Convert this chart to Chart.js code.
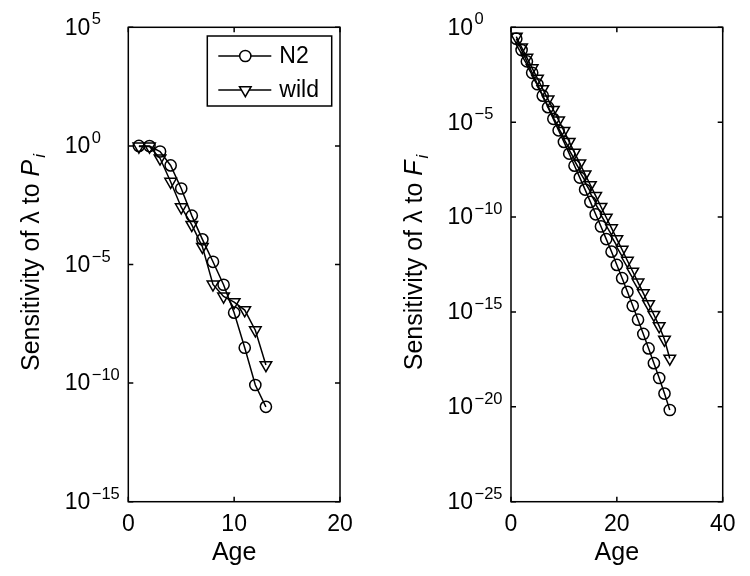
<!DOCTYPE html>
<html>
<head>
<meta charset="utf-8">
<script src="https://cdn.jsdelivr.net/npm/chart.js@4.4.1/dist/chart.umd.min.js"></script>
<style>
  html, body { margin: 0; padding: 0; background: #fff; }
  canvas { position: absolute; top: 0; }
  #left { left: 0; }
  #right { left: 375px; }
</style>
</head>
<body>
<canvas id="left" width="375" height="576"></canvas>
<canvas id="right" width="375" height="576"></canvas>
<script>
// ages
const agesP = [1, 2, 3, 4, 5, 6, 7, 8, 9, 10, 11, 12, 13];
const agesF = [1, 2, 3, 4, 5, 6, 7, 8, 9, 10, 11, 12, 13, 14, 15, 16, 17, 18, 19, 20,
  21, 22, 23, 24, 25, 26, 27, 28, 29, 30];

// sensitivity of lambda to P_i (survival)
const n2P = [1.0, 0.98, 5.8e-1, 1.5e-1, 1.6e-2, 1.15e-3, 1.15e-4, 1.3e-5, 1.4e-6, 9.3e-8,
  3.1e-9, 8.3e-11, 1.0e-11];
const wildP = [0.95, 0.95, 3.0e-1, 3.1e-2, 2.6e-3, 4.7e-4, 5.6e-5, 1.45e-6, 4.5e-7, 2.6e-7,
  1.2e-7, 1.7e-8, 5.8e-10];

// sensitivity of lambda to F_i (fertility)
const n2F = [2.5e-1, 6.3e-2, 1.6e-2, 4.0e-3, 1.0e-3, 2.5e-4, 6.2e-5, 1.5e-5, 3.7e-6, 9.1e-7,
  2.2e-7, 5.1e-8, 1.2e-8, 2.8e-9, 6.3e-10, 1.4e-10, 3.2e-11, 6.9e-12, 1.5e-12, 3.0e-13,
  6.0e-14, 1.15e-14, 2.1e-15, 3.9e-16, 6.9e-17, 1.2e-17, 2.0e-18, 3.3e-19, 5.0e-20, 6.8e-21];
const wildF = [3.2e-1, 8.9e-2, 2.5e-2, 7.1e-3, 2.0e-3, 5.6e-4, 1.6e-4, 4.5e-5, 1.26e-5, 3.5e-6,
  9.3e-7, 2.5e-7, 6.8e-8, 1.8e-8, 4.9e-9, 1.3e-9, 3.5e-10, 9.5e-11, 2.6e-11, 6.9e-12,
  1.9e-12, 5.0e-13, 1.35e-13, 3.6e-14, 9.8e-15, 2.6e-15, 7.1e-16, 1.8e-16, 3.5e-17, 3.5e-18];

// tick labels
const xTicksP = [0, 10, 20];
const yExpP = [5, 0, -5, -10, -15];
const xTicksF = [0, 20, 40];
const yExpF = [0, -5, -10, -15, -20, -25];

const FONT = '"Liberation Sans", Arial, Helvetica, sans-serif';
const LW = 1.5;

function pts(xs, ys) { return xs.map((x, i) => ({ x: x, y: ys[i] })); }

function series(label, xs, ys, shape) {
  return {
    label: label,
    data: pts(xs, ys),
    borderColor: '#000',
    borderWidth: LW,
    pointStyle: shape === 'tri' ? 'triangle' : 'circle',
    pointRotation: shape === 'tri' ? 180 : 0,
    pointRadius: shape === 'tri' ? 6.7 : 5.6,
    pointBorderWidth: LW,
    pointBorderColor: '#000',
    pointBackgroundColor: 'rgba(0,0,0,0)',
    tension: 0,
    fill: false
  };
}

function expText(e) { return e < 0 ? '\u2212' + Math.abs(e) : String(e); }

function axesPlugin(cfg) {
  return {
    id: 'matlabAxes',
    afterDraw(chart) {
      const ctx = chart.ctx;
      const a = chart.chartArea;
      const xs = chart.scales.x, ys = chart.scales.y;
      ctx.save();
      ctx.strokeStyle = '#000';
      ctx.lineWidth = LW;
      ctx.strokeRect(a.left, a.top, a.right - a.left, a.bottom - a.top);
      ctx.beginPath();
      cfg.xTicks.forEach(v => {
        const px = xs.getPixelForValue(v);
        ctx.moveTo(px, a.bottom); ctx.lineTo(px, a.bottom - 5);
        ctx.moveTo(px, a.top); ctx.lineTo(px, a.top + 5);
      });
      cfg.yExp.forEach(e => {
        const py = ys.getPixelForValue(Math.pow(10, e));
        ctx.moveTo(a.left, py); ctx.lineTo(a.left + 5, py);
        ctx.moveTo(a.right, py); ctx.lineTo(a.right - 5, py);
      });
      ctx.stroke();

      ctx.fillStyle = '#000';
      // x tick labels
      ctx.font = '23px ' + FONT;
      ctx.textAlign = 'center';
      ctx.textBaseline = 'middle';
      cfg.xTicks.forEach(v => {
        ctx.fillText(String(v), xs.getPixelForValue(v), a.bottom + 23);
      });
      // y tick labels 10^e
      cfg.yExp.forEach(e => {
        const py = ys.getPixelForValue(Math.pow(10, e));
        const bx = a.left - 38;
        ctx.font = '23px ' + FONT;
        ctx.textAlign = 'right';
        ctx.textBaseline = 'middle';
        ctx.fillText('10', bx, py + 1);
        ctx.font = '16.5px ' + FONT;
        ctx.textAlign = 'left';
        ctx.textBaseline = 'alphabetic';
        ctx.fillText(expText(e), bx + 1.5, py - 3);
      });
      // x title
      ctx.font = '25px ' + FONT;
      ctx.textAlign = 'center';
      ctx.textBaseline = 'middle';
      ctx.fillText('Age', (a.left + a.right) / 2, a.bottom + 51);

      // y title, rotated
      ctx.translate(cfg.yTitleX, (a.top + a.bottom) / 2 - 2);
      ctx.rotate(-Math.PI / 2);
      const main = 'Sensitivity of \u03bb to ';
      ctx.font = '25px ' + FONT;
      const w1 = ctx.measureText(main).width;
      ctx.font = 'italic 25px ' + FONT;
      const w2 = ctx.measureText(cfg.sym).width;
      ctx.font = 'italic 17px ' + FONT;
      const w3 = ctx.measureText('i').width;
      let x0 = -(w1 + w2 + w3 + 2) / 2;
      ctx.textAlign = 'left';
      ctx.textBaseline = 'middle';
      ctx.font = '25px ' + FONT;
      ctx.fillText(main, x0, 0);
      ctx.font = 'italic 25px ' + FONT;
      ctx.fillText(cfg.sym, x0 + w1, 0);
      ctx.font = 'italic 17px ' + FONT;
      ctx.fillText('i', x0 + w1 + w2 + 2, 8);
      ctx.restore();

      if (cfg.legend) {
        const L = cfg.legend;
        ctx.save();
        ctx.strokeStyle = '#000';
        ctx.lineWidth = LW;
        ctx.fillStyle = '#fff';
        ctx.fillRect(L.x, L.y, L.w, L.h);
        ctx.strokeRect(L.x, L.y, L.w, L.h);
        chart.data.datasets.forEach((ds, i) => {
          const ry = L.y + 20 + i * 34;
          ctx.beginPath();
          ctx.moveTo(L.x + 11, ry); ctx.lineTo(L.x + 64, ry);
          ctx.stroke();
          Chart.helpers.drawPoint(ctx, {
            pointStyle: ds.pointStyle,
            rotation: ds.pointRotation,
            radius: ds.pointRadius,
            borderWidth: LW
          }, L.x + 38, ry);
          ctx.fillStyle = '#000';
          ctx.font = '23px ' + FONT;
          ctx.textAlign = 'left';
          ctx.textBaseline = 'middle';
          ctx.fillText(ds.label, L.x + 72, ry + 1);
          ctx.fillStyle = '#fff';
        });
        ctx.restore();
      }
    }
  };
}

function makeChart(id, opts) {
  return new Chart(document.getElementById(id), {
    type: 'line',
    data: { datasets: opts.datasets },
    options: {
      responsive: false,
      animation: false,
      layout: { padding: { top: 27.3, right: opts.padRight, left: 0, bottom: 0 } },
      plugins: { legend: { display: false }, tooltip: { enabled: false } },
      scales: {
        x: {
          type: 'linear', min: opts.xMin, max: opts.xMax,
          grid: { display: false }, border: { display: false },
          ticks: { display: false },
          afterFit(s) { s.height = 74.3; }
        },
        y: {
          type: 'logarithmic', min: opts.yMin, max: opts.yMax,
          grid: { display: false }, border: { display: false },
          ticks: { display: false },
          afterFit(s) { s.width = opts.yWidth; }
        }
      }
    },
    plugins: [axesPlugin(opts.axes)]
  });
}

makeChart('left', {
  datasets: [series('N2', agesP, n2P, 'circle'), series('wild', agesP, wildP, 'tri')],
  xMin: 0, xMax: 20, yMin: 1e-15, yMax: 1e5,
  yWidth: 128.3, padRight: 35,
  axes: { xTicks: xTicksP, yExp: yExpP, sym: 'P', yTitleX: 32,
    legend: { x: 207.3, y: 36, w: 124.4, h: 70 } }
});

makeChart('right', {
  datasets: [series('N2', agesF, n2F, 'circle'), series('wild', agesF, wildF, 'tri')],
  xMin: 0, xMax: 40, yMin: 1e-25, yMax: 1e0,
  yWidth: 136, padRight: 27.3,
  axes: { xTicks: xTicksF, yExp: yExpF, sym: 'F', yTitleX: 40 }
});
</script>
</body>
</html>
